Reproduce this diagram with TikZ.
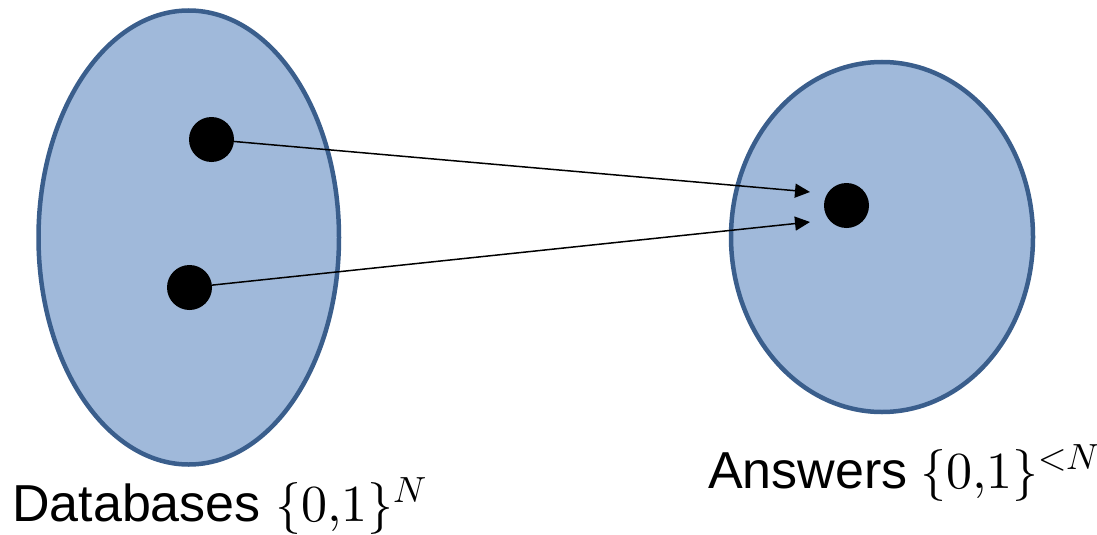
\documentclass[tikz,border=0pt]{standalone}
\usepackage{fontspec}
\usepackage{unicode-math}
\setmainfont{Liberation Sans}
\setmathfont{Latin Modern Math}
\usetikzlibrary{shapes.geometric,arrows.meta}
\definecolor{setfill}{RGB}{160,185,218}
\definecolor{setdraw}{RGB}{58,94,140}
\tikzset{
  setblob/.style={ellipse, draw=setdraw, fill=setfill, line width=4.5pt, inner sep=0pt},
  elem/.style={circle, fill=black, inner sep=0pt, minimum size=45pt},
  maparrow/.style={line width=1.5pt, -{Triangle[length=15pt,width=14pt]}},
  lbl/.style={inner sep=0pt, font=\fontsize{52}{60}\selectfont}
}
\begin{document}
\begin{tikzpicture}[x=1pt,y=-1pt]
\useasboundingbox (0,0) rectangle (1097,535);
\node[setblob, minimum width=300.5pt, minimum height=454pt] (db) at (188.75,237.5) {};
\node[setblob, minimum width=302pt, minimum height=350pt] (ans) at (882,237) {};
\node[elem] (d1) at (211.5,139.5) {};
\node[elem] (d2) at (189.5,287.5) {};
\node[elem] (a1) at (846.5,205.5) {};
\coordinate (t1) at (810,192);
\coordinate (t2) at (810,222);
\draw[maparrow] (d1) -- (t1);
\draw[maparrow] (d2) -- (t2);
\node[lbl, anchor=base west] (ldb) at (12,521) {Databases $\{0{,}1\}^{N}$};
\node[lbl, anchor=base west] (lans) at (708,488) {Answers\hspace{-2pt} $\{0{,}1\}^{{<}N}$};
\end{tikzpicture}
\end{document}
